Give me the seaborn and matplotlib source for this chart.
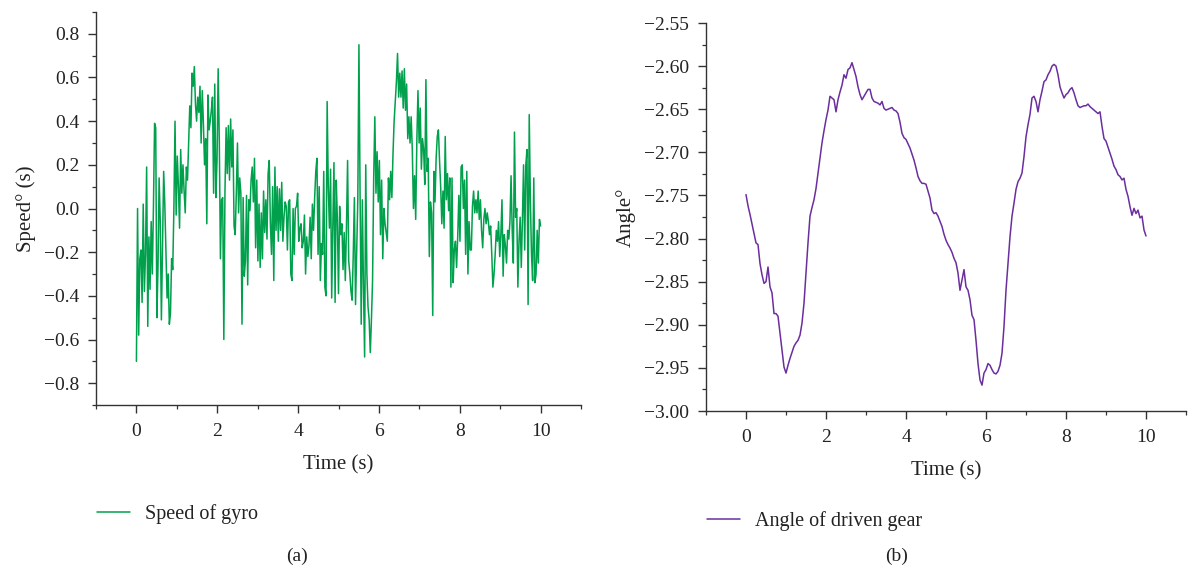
import numpy as np
import pandas as pd
import matplotlib
matplotlib.use("Agg")
import matplotlib.pyplot as plt
from matplotlib.ticker import MultipleLocator, FuncFormatter
import seaborn as sns

# ---- gyro angular speed samples, 0 .. 10 s (evenly sampled) ----
gyro_speed_a = [
    -0.70, 0.00, -0.58, -0.23, -0.19, -0.43, 0.02, -0.38, -0.21, 0.19, -0.54, -0.13,
    -0.37, -0.06, -0.30, 0.01, 0.39, 0.37, -0.50, -0.27, 0.14, -0.06, -0.51, -0.18,
    0.17, 0.02, -0.19, -0.41, -0.30, -0.53, -0.48, -0.23, -0.28, 0.00, 0.40, -0.03,
    0.24, 0.10, -0.09, 0.27, 0.07, 0.20, 0.08, -0.02, 0.19, 0.13, 0.30, 0.47, 0.37,
    0.62, 0.56, 0.65, 0.48, 0.40, 0.51, 0.44, 0.56, 0.30, 0.54,
]
gyro_speed_b = [
    0.39, 0.20, 0.32, -0.07, 0.52, 0.36, 0.40, 0.45, 0.51, 0.07, 0.57, 0.05, 0.22,
    0.64, 0.31, -0.23, 0.04, 0.05, -0.60, 0.08, 0.37, 0.16, 0.38, 0.13, 0.41, 0.19,
    0.36, -0.08, -0.12, 0.07, 0.30, -0.02, 0.14, 0.07, -0.53, 0.05, -0.31, -0.24,
    0.06, -0.35, 0.04, -0.01, 0.13, 0.19, 0.03, 0.23, -0.18, 0.13, -0.24, 0.02,
    -0.27, -0.02, -0.23, 0.08, -0.11, 0.04, -0.14, 0.16, 0.22, -0.07, -0.21, 0.10,
    -0.33, 0.19, -0.10, 0.10, -0.15, 0.09, -0.10, 0.12, -0.15, -0.04, 0.03, 0.01,
    -0.19,
]
gyro_speed_c = [
    0.03, 0.04, -0.30, -0.33, 0.00, -0.21, 0.00, 0.01, 0.07, -0.15, -0.09, -0.07,
    -0.18, -0.15, -0.03, -0.30, -0.13, -0.22, -0.17, -0.04, -0.23, 0.02, -0.10, 0.05,
    0.17, 0.23, -0.21, 0.10, -0.33, -0.16, -0.21, 0.17, -0.36, -0.40, 0.49, 0.10,
    -0.09, 0.18, -0.41, -0.08, 0.21, -0.43, 0.13, -0.05, -0.39, 0.01, -0.12, -0.07,
    -0.28, -0.11, -0.33, -0.09, 0.22, -0.24, -0.30, -0.38, -0.42, -0.21, 0.05, -0.44,
    -0.20, 0.04, 0.75, 0.07, -0.53, 0.04, -0.36, -0.68, 0.20, -0.30, -0.45, -0.51,
    -0.66, -0.51, -0.33, 0.14,
]
gyro_speed_d = [
    0.42, 0.07, 0.26, 0.03, 0.22, -0.12, 0.13, -0.23, 0.00, -0.07, -0.11, -0.15,
    0.14, 0.04, 0.17, 0.05, 0.25, 0.40, 0.49, 0.58, 0.71, 0.51, 0.62, 0.51, 0.63,
    0.46, 0.64, 0.45, 0.57, 0.32, 0.42, 0.30, 0.42, 0.27, 0.00, 0.15, -0.05, 0.31,
    0.54, 0.30, 0.46, 0.18, 0.32, 0.27, 0.11, 0.59, 0.17, 0.23, -0.22, 0.03, -0.02,
    -0.49, 0.17, 0.03, 0.23, 0.33, 0.36, 0.22, 0.10, -0.07, 0.08, -0.09, 0.33, 0.04,
    0.16, -0.01, 0.14, -0.36, 0.14, -0.34, -0.19, -0.15, -0.27, -0.13, 0.06, -0.15,
    0.19, 0.20, 0.00, 0.13, -0.21, 0.17, -0.30, -0.06, -0.19, -0.19, 0.01, 0.08,
    -0.02,
]
gyro_speed_e = [
    0.04, -0.02, 0.08, -0.05, 0.04, -0.10, -0.18, -0.05, 0.00, -0.07, -0.02, -0.06,
    -0.12, -0.08, -0.21, -0.36, -0.30, -0.21, -0.10, -0.15, -0.06, -0.22, -0.12, 0.04,
    -0.31, -0.12, -0.17, -0.25, -0.10, -0.14, -0.06, 0.15, -0.10, -0.25, 0.35, -0.04,
    0.00, -0.36, -0.15, -0.04, -0.27, -0.05, 0.20, -0.19, 0.20, 0.27, -0.44, 0.43,
    0.04, -0.21, -0.33, 0.14, -0.34, -0.30, -0.10, -0.25, -0.05, -0.08,
]
gyro_speed = gyro_speed_a + gyro_speed_b + gyro_speed_c + gyro_speed_d + gyro_speed_e

# ---- driven gear angle, sampled every 0.05 s from 0 to 10 s ----
gear_angle = [
    -2.749, -2.762, -2.772, -2.783, -2.794, -2.805, -2.807, -2.829, -2.842, -2.852,
    -2.850, -2.833, -2.856, -2.863, -2.887, -2.887, -2.890, -2.910, -2.929, -2.949,
    -2.956, -2.947, -2.939, -2.932, -2.925, -2.921, -2.918, -2.912, -2.898, -2.875,
    -2.840, -2.805, -2.774, -2.764, -2.755, -2.742, -2.724, -2.706, -2.689, -2.675,
    -2.662, -2.651, -2.635, -2.637, -2.639, -2.653, -2.639, -2.630, -2.622, -2.610,
    -2.614, -2.604, -2.602, -2.596, -2.604, -2.612, -2.624, -2.633, -2.639, -2.635,
    -2.631, -2.627, -2.627, -2.637, -2.641, -2.642, -2.643, -2.645, -2.641, -2.649,
    -2.651, -2.650, -2.649, -2.648, -2.651, -2.652, -2.655, -2.665, -2.678, -2.683,
    -2.685, -2.690, -2.695, -2.702, -2.709, -2.718, -2.728, -2.733, -2.736, -2.736,
    -2.737, -2.745, -2.753, -2.767, -2.771, -2.770, -2.774, -2.780, -2.786, -2.795,
    -2.802, -2.807, -2.811, -2.816, -2.823, -2.828, -2.840, -2.860, -2.848, -2.836,
    -2.856, -2.860, -2.871, -2.889, -2.894, -2.918, -2.945, -2.964, -2.970, -2.956,
    -2.952, -2.945, -2.947, -2.952, -2.956, -2.957, -2.954, -2.947, -2.933, -2.902,
    -2.860, -2.829, -2.798, -2.774, -2.759, -2.743, -2.734, -2.730, -2.724, -2.705,
    -2.682, -2.668, -2.656, -2.637, -2.635, -2.641, -2.653, -2.639, -2.629, -2.618,
    -2.616, -2.610, -2.606, -2.600, -2.598, -2.600, -2.610, -2.624, -2.631, -2.637,
    -2.633, -2.631, -2.627, -2.625, -2.631, -2.639, -2.646, -2.648, -2.647, -2.646,
    -2.646, -2.644, -2.647, -2.649, -2.651, -2.653, -2.655, -2.653, -2.670, -2.684,
    -2.687, -2.694, -2.701, -2.708, -2.716, -2.720, -2.726, -2.728, -2.732, -2.730,
    -2.743, -2.751, -2.763, -2.773, -2.765, -2.771, -2.767, -2.776, -2.774, -2.790,
    -2.797,
]

T_END = 10.0
gyro_df = pd.DataFrame({
    "time": np.linspace(0.0, T_END, len(gyro_speed)),
    "speed": gyro_speed,
})
gear_df = pd.DataFrame({
    "time": np.linspace(0.0, T_END, len(gear_angle)),
    "angle": gear_angle,
})

GREEN = "#00a04c"
PURPLE = "#6a2e9e"
TEXT = "#222222"
AX_COLOR = "#333333"

sns.set_theme(style="ticks")
plt.rcParams["font.family"] = ["Liberation Serif", "DejaVu Serif"]

W, H = 1189, 573
fig = plt.figure(figsize=(W / 100, H / 100), dpi=100)

ax1 = fig.add_axes([96 / W, 1 - 405 / H, (581 - 96) / W, (405 - 12) / H])
ax2 = fig.add_axes([706 / W, 1 - 411 / H, (1186 - 706) / W, (411 - 23) / H])

sns.lineplot(data=gyro_df, x="time", y="speed", ax=ax1, color=GREEN,
             linewidth=1.1, sort=False, estimator=None, label="Speed of gyro")
sns.lineplot(data=gear_df, x="time", y="angle", ax=ax2, color=PURPLE,
             linewidth=1.1, sort=False, estimator=None, label="Angle of driven gear")

TICK_FS = 14
LABEL_FS = 15
LEGEND_FS = 14.5


def minus_fmt(decimals):
    def fmt(v, _pos):
        if abs(v) < 1e-9:
            v = 0.0
        return f"{v:.{decimals}f}".replace("-", "\u2212")
    return FuncFormatter(fmt)


for ax in (ax1, ax2):
    sns.despine(ax=ax)
    ax.set_xlim(-1, 11)
    ax.xaxis.set_major_locator(MultipleLocator(2))
    ax.xaxis.set_minor_locator(MultipleLocator(1))
    ax.xaxis.set_major_formatter(minus_fmt(0))
    ax.tick_params(which="major", length=5.5, width=1.0, color=AX_COLOR,
                   labelsize=TICK_FS, labelcolor=TEXT, direction="out")
    ax.tick_params(which="minor", length=3.1, width=0.9, color=AX_COLOR, direction="out")
    ax.tick_params(axis="x", which="major", pad=7.5)
    ax.tick_params(axis="y", which="major", pad=6.5)
    for side in ("left", "bottom"):
        ax.spines[side].set_color(AX_COLOR)
        ax.spines[side].set_linewidth(1.0)
    ax.set_xlabel("Time (s)", fontsize=LABEL_FS, color=TEXT, labelpad=11)
    ax.get_legend().remove()

ax1.set_ylim(-0.9, 0.9)
ax1.yaxis.set_major_locator(MultipleLocator(0.2))
ax1.yaxis.set_minor_locator(MultipleLocator(0.1))
ax1.yaxis.set_major_formatter(minus_fmt(1))
ax1.set_ylabel("Speed° (s)", fontsize=LABEL_FS, color=TEXT, labelpad=6)

ax2.set_ylim(-3.0, -2.55)
ax2.yaxis.set_major_locator(MultipleLocator(0.05))
ax2.yaxis.set_minor_locator(MultipleLocator(0.025))
ax2.yaxis.set_major_formatter(minus_fmt(2))
ax2.set_ylabel("Angle°", fontsize=LABEL_FS, color=TEXT, labelpad=6)

# legends placed below each panel
for ax, x0, y0 in ((ax1, 97, 514), (ax2, 707, 521)):
    handles, labels = ax.get_legend_handles_labels()
    fig.legend(handles, labels, loc="center left",
               bbox_to_anchor=(x0 / W, 1 - y0 / H), frameon=False,
               fontsize=LEGEND_FS, handlelength=1.65, handletextpad=0.75,
               borderpad=0, borderaxespad=0, labelcolor=TEXT)

fig.text(297 / W, 1 - 556 / H, "(a)", ha="center", va="center",
         fontsize=TICK_FS, color=TEXT)
fig.text(897 / W, 1 - 556 / H, "(b)", ha="center", va="center",
         fontsize=TICK_FS, color=TEXT)

fig.savefig("out.png", dpi=100)
